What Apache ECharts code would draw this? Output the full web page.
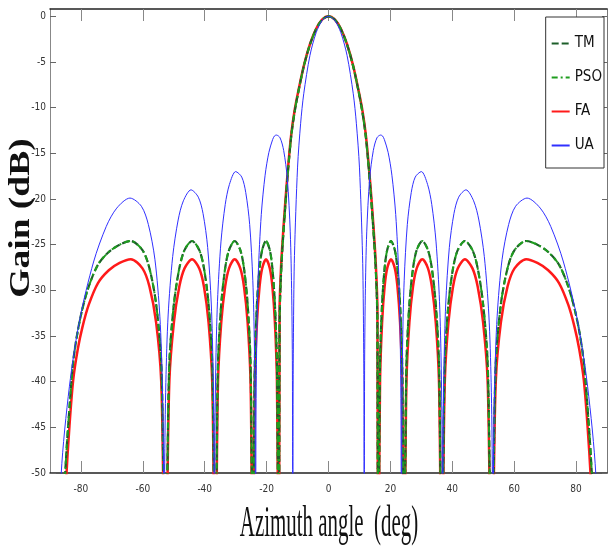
<!DOCTYPE html>
<html>
<head>
<meta charset="utf-8">
<script src="https://cdn.jsdelivr.net/npm/echarts@6/dist/echarts.min.js"></script>
<style>
  html, body { margin: 0; padding: 0; background: #fff; overflow: hidden; }
  #chart { width: 611px; height: 552px; }
</style>
</head>
<body>
<div id="chart"></div>
<script>
// tick positions
const xTicks = [-80, -60, -40, -20, 0, 20, 40, 60, 80];
const yTicks = [0, -5, -10, -15, -20, -25, -30, -35, -40, -45, -50];

// angles (deg) shared by the optimised patterns (TM, PSO, FA)
const optAngles = [
  -90, -86.5, -85.6, -84.8, -83.7, -82.5, -81, -79.5, -77.5, -74.5, -71, -67.5, -63.88, -60.12, -57.85, -55.71, -54.08, -53.29, -52.9,
  -52.7, -52.52, -52.15, -51.41, -49.96, -48.22, -46.53, -44.1, -41.76, -40.24, -38.76, -37.6, -37.02, -36.74,
  -36.6, -36.47, -36.21, -35.69, -34.66, -33.4, -32.15, -30.31, -28.5, -27.31, -26.14, -25.21, -24.75, -24.52,
  -24.4, -24.31, -24.14, -23.8, -23.12, -22.28, -21.44, -20.19, -18.96, -18.13, -17.32, -16.67, -16.34, -16.18,
  -16.1, -15.8, -15.5, -15, -14, -13, -12, -11, -10, -8, -6, -4, -2,
  0, 2, 4, 6, 8, 10, 11, 12, 13, 14, 15, 15.5, 15.8, 16.1,
  16.18, 16.34, 16.67, 17.32, 18.13, 18.96, 20.19, 21.44, 22.28, 23.12, 23.8, 24.14, 24.31, 24.4,
  24.52, 24.75, 25.21, 26.14, 27.31, 28.5, 30.31, 32.15, 33.4, 34.66, 35.69, 36.21, 36.47, 36.6,
  36.74, 37.02, 37.6, 38.76, 40.24, 41.76, 44.1, 46.53, 48.22, 49.96, 51.41, 52.15, 52.52, 52.7,
  52.9, 53.29, 54.08, 55.71, 57.85, 60.12, 63.88, 67.5, 71, 74.5, 77.5, 79.5, 81, 82.5, 83.7, 84.8, 85.6, 86.5, 90
];

const tmGain = [
  -80, -80, -54, -48.3, -42.8, -37.8, -34.4, -32.0, -29.6, -27.2, -25.8, -25.0, -24.6, -25.6, -27.6, -31.5, -37.8, -51.1, -54.7,
  -80, -54.7, -51.1, -37.8, -31.5, -27.6, -25.6, -24.6, -25.6, -27.6, -31.5, -37.8, -51.1, -54.7,
  -80, -54.7, -51.1, -37.8, -31.5, -27.6, -25.6, -24.6, -25.6, -27.6, -31.5, -37.8, -51.1, -54.7,
  -80, -54.7, -51.1, -37.8, -31.5, -27.6, -25.6, -24.6, -25.6, -27.6, -31.5, -37.8, -51.1, -54.7,
  -80, -33.5, -29.6, -26.0, -21.0, -16.6, -13.0, -10.6, -8.7, -5.5, -3.1, -1.4, -0.35,
  0, -0.35, -1.4, -3.1, -5.5, -8.7, -10.6, -13.0, -16.6, -21.0, -26.0, -29.6, -33.5, -80,
  -54.7, -51.1, -37.8, -31.5, -27.6, -25.6, -24.6, -25.6, -27.6, -31.5, -37.8, -51.1, -54.7, -80,
  -54.7, -51.1, -37.8, -31.5, -27.6, -25.6, -24.6, -25.6, -27.6, -31.5, -37.8, -51.1, -54.7, -80,
  -54.7, -51.1, -37.8, -31.5, -27.6, -25.6, -24.6, -25.6, -27.6, -31.5, -37.8, -51.1, -54.7, -80,
  -54.7, -51.1, -37.8, -31.5, -27.6, -25.6, -24.6, -25.0, -25.8, -27.2, -29.6, -32.0, -34.4, -37.8, -42.8, -48.3, -54, -80, -80
];

// PSO sits right on top of TM in the figure
const psoGain = tmGain.slice();

const faGain = [
  -80, -80, -57, -50.8, -44.8, -39.8, -36.4, -34.0, -31.6, -29.2, -27.8, -27.0, -26.6, -27.6, -29.6, -33.5, -39.8, -53.1, -56.7,
  -80, -56.7, -53.1, -39.8, -33.5, -29.6, -27.6, -26.6, -27.6, -29.6, -33.5, -39.8, -53.1, -56.7,
  -80, -56.7, -53.1, -39.8, -33.5, -29.6, -27.6, -26.6, -27.6, -29.6, -33.5, -39.8, -53.1, -56.7,
  -80, -56.7, -53.1, -39.8, -33.5, -29.6, -27.6, -26.6, -27.6, -29.6, -33.5, -39.8, -53.1, -56.7,
  -80, -32, -28.7, -25.4, -20.5, -16.3, -12.8, -10.4, -8.6, -5.45, -3.06, -1.36, -0.34,
  0, -0.34, -1.36, -3.06, -5.45, -8.6, -10.4, -12.8, -16.3, -20.5, -25.4, -28.7, -32, -80,
  -56.7, -53.1, -39.8, -33.5, -29.6, -27.6, -26.6, -27.6, -29.6, -33.5, -39.8, -53.1, -56.7, -80,
  -56.7, -53.1, -39.8, -33.5, -29.6, -27.6, -26.6, -27.6, -29.6, -33.5, -39.8, -53.1, -56.7, -80,
  -56.7, -53.1, -39.8, -33.5, -29.6, -27.6, -26.6, -27.6, -29.6, -33.5, -39.8, -53.1, -56.7, -80,
  -56.7, -53.1, -39.8, -33.5, -29.6, -27.6, -26.6, -27.0, -27.8, -29.2, -31.6, -34.0, -36.4, -39.8, -44.8, -50.8, -57, -80, -80
];

// uniform array
const uaAngles = [
  -90, -86.38, -83.72, -80.4, -75.93, -71.81, -68.43, -64.16, -60.46, -58.21, -56.1, -54.49, -53.71, -53.32,
  -53.13, -52.94, -52.56, -51.82, -50.35, -48.59, -46.89, -44.43, -42.07, -40.54, -39.05, -37.88, -37.3, -37.01,
  -36.87, -36.73, -36.44, -35.87, -34.75, -33.37, -32.01, -30, -28.03, -26.74, -25.47, -24.46, -23.95, -23.7,
  -23.58, -23.45, -23.2, -22.71, -21.72, -20.49, -19.27, -18.06, -17.46, -16.86, -15.66, -14.48, -13.3, -12.36, -11.89, -11.65,
  -11.54, -11.45, -11.3, -11, -10, -9, -8, -6, -4, -2,
  0, 2, 4, 6, 8, 9, 10, 11, 11.3, 11.45, 11.54,
  11.65, 11.89, 12.36, 13.3, 14.48, 15.66, 16.86, 17.46, 18.06, 19.27, 20.49, 21.72, 22.71, 23.2, 23.45, 23.58,
  23.7, 23.95, 24.46, 25.47, 26.74, 28.03, 30, 32.01, 33.37, 34.75, 35.87, 36.44, 36.73, 36.87,
  37.01, 37.3, 37.88, 39.05, 40.54, 42.07, 44.43, 46.89, 48.59, 50.35, 51.82, 52.56, 52.94, 53.13,
  53.32, 53.71, 54.49, 56.1, 58.21, 60.46, 64.16, 68.43, 71.81, 75.93, 80.4, 83.72, 86.38, 90
];

const uaGain = [
  -80, -50.1, -40.5, -33.2, -26.9, -23.0, -21.0, -19.9, -20.8, -22.8, -26.6, -32.9, -40.1, -49.6,
  -80, -49.6, -40.1, -32.7, -26.3, -22.3, -20.2, -19.0, -19.8, -21.6, -25.3, -31.5, -38.8, -48.2,
  -80, -48.2, -38.6, -31.2, -24.7, -20.6, -18.4, -17.0, -17.6, -19.3, -22.8, -28.9, -36.0, -45.5,
  -80, -45.4, -35.8, -28.3, -21.7, -17.4, -14.9, -13.5, -13.1, -13.0, -13.3, -14.7, -17.8, -23.6, -30.6, -39.9,
  -80, -42.5, -33.6, -26.2, -16.51, -11.71, -8.48, -4.29, -1.8, -0.44,
  0, -0.44, -1.8, -4.29, -8.48, -11.71, -16.51, -26.2, -33.6, -42.5, -80,
  -39.9, -30.6, -23.6, -17.8, -14.7, -13.3, -13.0, -13.1, -13.5, -14.9, -17.4, -21.7, -28.3, -35.8, -45.4, -80,
  -45.5, -36.0, -28.9, -22.8, -19.3, -17.6, -17.0, -18.4, -20.6, -24.7, -31.2, -38.6, -48.2, -80,
  -48.2, -38.8, -31.5, -25.3, -21.6, -19.8, -19.0, -20.2, -22.3, -26.3, -32.7, -40.1, -49.6, -80,
  -49.6, -40.1, -32.9, -26.6, -22.8, -20.8, -19.9, -21.0, -23.0, -26.9, -33.2, -40.5, -50.1, -80
];

const pairs = (xs, ys) => xs.map((x, i) => [x, ys[i]]);

const narrow = "'Liberation Sans Narrow', 'DejaVu Sans Condensed', 'Liberation Sans', sans-serif";

const chart = echarts.init(document.getElementById('chart'));

const lineBase = { type: 'line', symbol: 'none', smooth: 0.3, animation: false };

chart.setOption({
  backgroundColor: '#fff',
  animation: false,
  grid: { left: 50, right: 4, top: 9, bottom: 79 },
  legend: {
    data: ['TM', 'PSO', 'FA', 'UA'],
    orient: 'vertical',
    right: 7,
    top: 17,
    padding: [19, 2, 15, 5],
    itemWidth: 18,
    itemHeight: 12,
    itemGap: 19,
    backgroundColor: '#fff',
    borderColor: '#333',
    borderWidth: 1,
    borderRadius: 0,
    itemStyle: { opacity: 0 },
    textStyle: { fontFamily: narrow, fontSize: 15, color: '#111' }
  },
  xAxis: [
    {
      type: 'value', min: -90, max: 90, interval: 10,
      axisLine: { onZero: false, lineStyle: { color: '#222', width: 1.5 } },
      axisTick: { inside: true, length: 12, customValues: xTicks, lineStyle: { color: '#888' } },
      axisLabel: { customValues: xTicks, margin: 11, fontFamily: narrow, fontSize: 10, color: '#333' },
      splitLine: { show: false }
    },
    {
      type: 'value', position: 'top', min: -90, max: 90, interval: 10,
      axisLine: { onZero: false, lineStyle: { color: '#222', width: 1.5 } },
      axisTick: { inside: true, length: 12, customValues: xTicks, lineStyle: { color: '#888' } },
      axisLabel: { show: false },
      splitLine: { show: false }
    }
  ],
  yAxis: [
    {
      type: 'value', min: -50, max: 0.8, interval: 5,
      axisLine: { show: true, onZero: false, lineStyle: { color: '#888', width: 1 } },
      axisTick: { show: true, inside: true, length: 6, customValues: yTicks, lineStyle: { color: '#666' } },
      axisLabel: { customValues: yTicks, margin: 4, fontFamily: narrow, fontSize: 10, color: '#333' },
      splitLine: { show: false }
    },
    {
      type: 'value', position: 'right', min: -50, max: 0.8, interval: 5,
      axisLine: { show: true, onZero: false, lineStyle: { color: '#777', width: 1 } },
      axisTick: { show: true, inside: true, length: 5, customValues: yTicks, lineStyle: { color: '#666' } },
      axisLabel: { show: false },
      splitLine: { show: false }
    }
  ],
  series: [
    Object.assign({}, lineBase, {
      name: 'FA', data: pairs(optAngles, faGain),
      itemStyle: { color: '#ff1a1a' },
      lineStyle: { color: '#ff1a1a', width: 2.5 }
    }),
    Object.assign({}, lineBase, {
      name: 'TM', data: pairs(optAngles, tmGain),
      itemStyle: { color: '#1d5e2a' },
      lineStyle: { color: '#1d5e2a', width: 2.2, type: [7, 3] }
    }),
    Object.assign({}, lineBase, {
      name: 'PSO', data: pairs(optAngles, psoGain),
      itemStyle: { color: '#1f9d1f' },
      lineStyle: { color: '#1f9d1f', width: 2, type: [6, 3, 2, 3] }
    }),
    Object.assign({}, lineBase, {
      name: 'UA', data: pairs(uaAngles, uaGain),
      itemStyle: { color: '#3030ff' },
      lineStyle: { color: '#3030ff', width: 1 }
    })
  ],
  graphic: [
    {
      type: 'text', x: 329, y: 547, scaleX: 0.465, silent: true,
      style: {
        text: 'Azimuth angle  (deg)', font: '45px "Liberation Serif"', fill: '#111',
        textAlign: 'center', textVerticalAlign: 'bottom'
      }
    },
    {
      type: 'text', x: 21, y: 218, rotation: Math.PI / 2, scaleX: 1.25, silent: true,
      style: {
        text: 'Gain (dB)', font: 'bold 30px "Liberation Serif"', fill: '#111',
        textAlign: 'center', textVerticalAlign: 'middle'
      }
    }
  ]
});
</script>
</body>
</html>
